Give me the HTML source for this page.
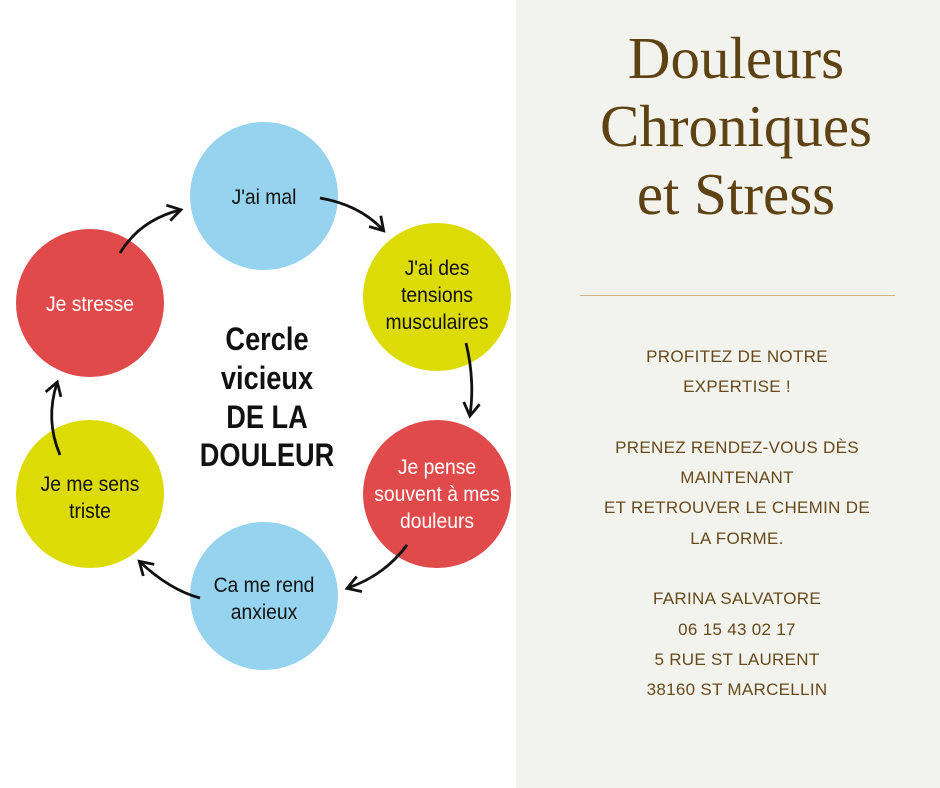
<!DOCTYPE html>
<html><head><meta charset="utf-8"><style>
body{margin:0;width:940px;height:788px;overflow:hidden;background:#fff;position:relative;font-family:"Liberation Sans",sans-serif}
#r{position:absolute;left:516px;top:0;width:424px;height:788px;background:#f3f3ee}
.t{position:absolute;left:0;width:440px;text-align:center;font-family:"Liberation Serif",serif;color:#5e4213;font-size:59px}
.b{position:absolute;left:0;width:442px;text-align:center;color:#66491c;font-size:17px;line-height:30.3px;letter-spacing:.3px}
</style></head><body>
<svg width="516" height="788" style="position:absolute;left:0;top:0" font-family="Liberation Sans, sans-serif">
<defs><marker id="a" markerWidth="20" markerHeight="20" refX="13" refY="9" orient="auto" markerUnits="userSpaceOnUse"><path d="M1 1 L14 9 L1 17" fill="none" stroke="#111" stroke-width="2.8"/></marker></defs>
<circle cx="264" cy="196" r="74" fill="#95d3ee"/>
<circle cx="437" cy="297" r="74" fill="#dcdb04"/>
<circle cx="437" cy="494" r="74" fill="#e04a4b"/>
<circle cx="264" cy="596" r="74" fill="#95d3ee"/>
<circle cx="90" cy="494" r="74" fill="#dcdb04"/>
<circle cx="90" cy="303" r="74" fill="#e04a4b"/>
<g fill="none" stroke="#111" stroke-width="2.8" marker-end="url(#a)">
<path d="M320 198 Q360 205 383 230"/>
<path d="M466 343 Q475 380 470 415"/>
<path d="M407 545 Q385 575 348 588"/>
<path d="M200 598 Q170 590 140 562"/>
<path d="M60 455 Q45 420 57 383"/>
<path d="M120 253 Q140 220 180 210"/>
</g>
<g font-size="21" text-anchor="middle" fill="#111">
<g transform="translate(264 0) scale(0.92 1)"><text x="0" y="204">J'ai mal</text><text x="0" y="592">Ca me rend</text><text x="0" y="619">anxieux</text></g>
<g transform="translate(437 0) scale(0.92 1)"><text x="0" y="275">J'ai des</text><text x="0" y="302">tensions</text><text x="0" y="329">musculaires</text>
<text x="0" y="474" fill="#fff">Je pense</text><text x="0" y="501" fill="#fff">souvent à mes</text><text x="0" y="528" fill="#fff">douleurs</text></g>
<g transform="translate(90 0) scale(0.92 1)"><text x="0" y="491">Je me sens</text><text x="0" y="518">triste</text>
<text x="0" y="311" fill="#fff">Je stresse</text></g>
</g>
<g font-size="32" font-weight="bold" text-anchor="middle" fill="#111" transform="translate(267 0) scale(0.85 1)">
<text x="0" y="350">Cercle</text><text x="0" y="389">vicieux</text><text x="0" y="428">DE LA</text><text x="0" y="466">DOULEUR</text>
</g>
</svg>
<div id="r">
<div class="t" style="top:24px">Douleurs</div>
<div class="t" style="top:92px">Chroniques</div>
<div class="t" style="top:160px">et Stress</div>
<div style="position:absolute;left:64px;top:295px;width:315px;height:1px;background:#d2b282"></div>
<div class="b" style="top:342px">PROFITEZ DE NOTRE<br>EXPERTISE !<br><br>PRENEZ RENDEZ-VOUS DÈS<br>MAINTENANT<br>ET RETROUVER LE CHEMIN DE<br>LA FORME.<br><br>FARINA SALVATORE<br>06 15 43 02 17<br>5 RUE ST LAURENT<br>38160 ST MARCELLIN</div>
</div>
</body></html>
